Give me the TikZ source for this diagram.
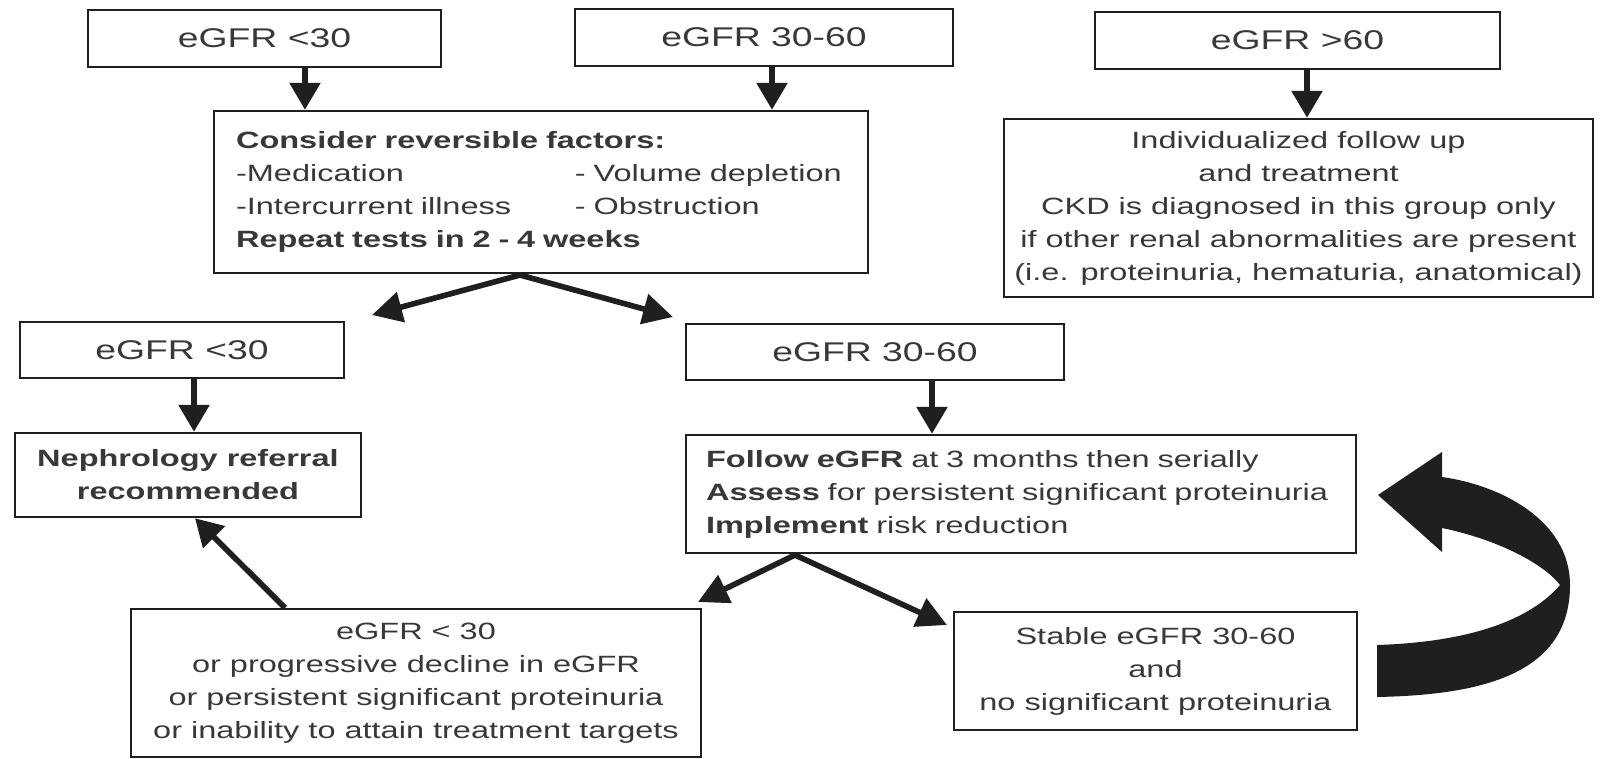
\documentclass[tikz,border=0pt]{standalone}
\usepackage{fontspec}
\setmainfont{Liberation Sans}[FakeStretch=1.38]
\usetikzlibrary{arrows.meta}
\definecolor{ink}{gray}{0.12}
\definecolor{txt}{gray}{0.22}

\begin{document}
\begin{tikzpicture}[x=0.02cm, y=-0.02cm,
  box/.style={draw=ink, line width=1.4pt, inner sep=0pt, text=txt, align=center,
    font=\fontsize{13.4}{18.8}\selectfont},
  lbl/.style={box, font=\fontsize{15.4}{18}\selectfont},
  arr/.style={draw=ink, line width=3.2pt, -{Triangle[length=0.54cm,width=0.6cm]}},
  twoarr/.style={draw=ink, line width=3.2pt,
    {Triangle[length=0.6cm,width=0.6cm]}-{Triangle[length=0.6cm,width=0.6cm]}}]
	\useasboundingbox (0,0) rectangle (1603,758);

	% first row
	\node[lbl, minimum width=7.06cm, minimum height=1.14cm] (lt30) at (264.5,38.5) {eGFR <30};
	\node[lbl, minimum width=7.56cm, minimum height=1.14cm] (mid) at (764,37.5) {eGFR 30-60};
	\node[lbl, minimum width=8.1cm, minimum height=1.14cm] (gt60) at (1297.5,40.5) {eGFR >60};

	\node[box, minimum height=3.24cm, text width=12.2cm, inner xsep=0.44cm, align=left] (consider) at (541,192)
		{\textbf{Consider reversible factors:}\\
		 \makebox[6.78cm][l]{-Medication}- Volume depletion\\
		 \makebox[6.78cm][l]{-Intercurrent illness}- Obstruction\\
		 \textbf{Repeat tests in 2 - 4 weeks}};
	\node[box, minimum width=11.78cm, minimum height=3.56cm] (indiv) at (1298.5,208)
		{Individualized follow up\\and treatment\\CKD is diagnosed in this group only\\
		 if other renal abnormalities are present\\(i.e. proteinuria, hematuria, anatomical)};

	% second row
	\node[lbl, minimum width=6.48cm, minimum height=1.12cm] (lowb) at (182,350) {eGFR <30};
	\node[lbl, minimum width=7.56cm, minimum height=1.12cm] (midb) at (875,352) {eGFR 30-60};

	\node[box, minimum width=6.92cm, minimum height=1.68cm] (neph) at (188,475)
		{\textbf{Nephrology referral}\\\textbf{recommended}};
	\node[box, minimum height=2.36cm, text width=12.6cm, inner xsep=0.4cm, align=left] (follow) at (1021,494)
		{\textbf{Follow eGFR} at 3 months then serially\\
		 \textbf{Assess} for persistent significant proteinuria\\
		 \textbf{Implement} risk reduction};

	% last row
	\node[box, minimum width=11.4cm, minimum height=2.96cm] (worse) at (416,683)
		{eGFR < 30\\or progressive decline in eGFR\\or persistent significant proteinuria\\
		 or inability to attain treatment targets};
	\node[box, minimum width=8.06cm, minimum height=2.36cm] (stable) at (1155.5,671)
		{Stable eGFR 30-60\\and\\no significant proteinuria};

	% arrows
	\draw[arr] (lt30.south -| 305,0) -- (consider.north -| 305,0);
	\draw[arr] (mid.south -| 772,0) -- (consider.north -| 772,0);
	\draw[arr] (gt60.south -| 1307,0) -- (indiv.north -| 1307,0);

	\coordinate (fork) at (520,275);
	\coordinate (tipl) at (372,315);
	\coordinate (tipr) at (673,317);
	\draw[twoarr] (tipl) -- (fork) -- (tipr);

	\draw[arr] (lowb.south -| 194,0) -- (neph.north -| 194,0);
	\draw[arr] (midb.south -| 932,0) -- (follow.north -| 932,0);

	\coordinate (split) at (795,555);
	\coordinate (downl) at (698,602);
	\coordinate (downr) at (947,625);
	\draw[twoarr] (downl) -- (split) -- (downr);

	\draw[arr] (worse.north -| 285,0) -- (neph.south -| 195,0);

	% big curved arrow back to the follow box
	\fill[ink] (1377,697) .. controls (1480,695) and (1570,675) .. (1570,585)
		.. controls (1570,520) and (1500,485) .. (1442,477)
		-- (1442,452) -- (1378,495) -- (1442,552) -- (1442,528)
		.. controls (1500,540) and (1545,565) .. (1560,585)
		.. controls (1530,620) and (1470,642) .. (1377,645) -- cycle;

\end{tikzpicture}
\end{document}
